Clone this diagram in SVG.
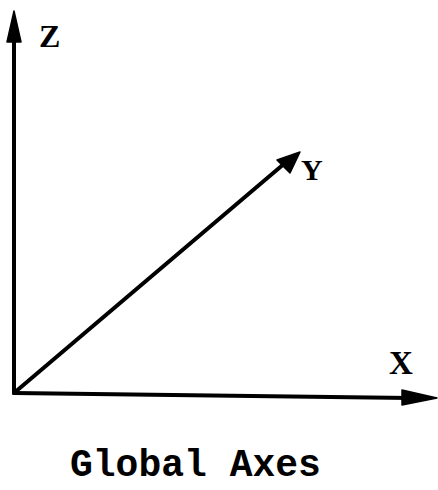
<svg xmlns="http://www.w3.org/2000/svg" width="438" height="490" viewBox="0 0 438 490">
<style>
.ax{stroke:#000;stroke-width:4;fill:none;stroke-linecap:round}
.hd{fill:#000;stroke:#000;stroke-width:1.5;stroke-linejoin:round}
.lb{font-family:"Liberation Serif","Times New Roman",serif;font-weight:bold;fill:#000}
.cap{font-family:"Liberation Mono","Courier New",monospace;font-weight:bold;fill:#000}
</style>
<rect width="438" height="490" fill="#fff"/>
<g id="connectors">
<line class="ax" x1="14" y1="393" x2="14" y2="30"/>
<polygon class="hd" points="14,11 21,42 7,42"/>
<line class="ax" x1="14" y1="393" x2="410" y2="398"/>
<polygon class="hd" points="437,398 402,390 402,405"/>
<line class="ax" x1="14" y1="393" x2="285" y2="163"/>
<polygon class="hd" points="300,152 290,173 277,160"/>
</g>
<g id="z-label"><text class="lb" x="39" y="47" font-size="32">Z</text></g>
<g id="y-label"><text class="lb" x="301" y="180" font-size="30">Y</text></g>
<g id="x-label"><text class="lb" x="389" y="374" font-size="33">X</text></g>
<g id="caption"><text class="cap" x="70" y="476" font-size="38">Global Axes</text></g>
</svg>
